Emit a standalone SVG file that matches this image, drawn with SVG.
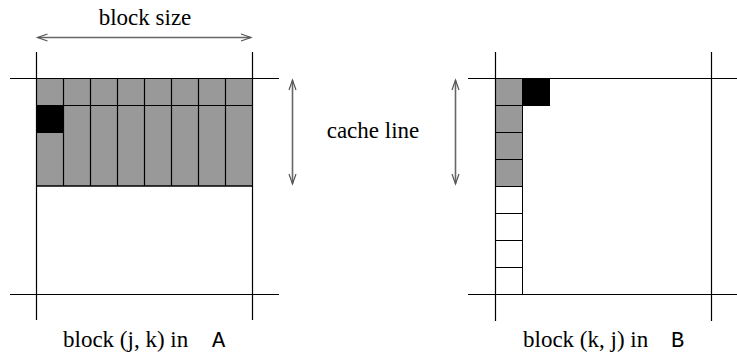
<svg xmlns="http://www.w3.org/2000/svg" width="737" height="353" viewBox="0 0 737 353">
<style>
.ln{stroke:#000;stroke-width:1.2;fill:none}
.cell{fill:#999;stroke:#000;stroke-width:1}
.blk{fill:#000;stroke:#000;stroke-width:1}
.wc{fill:#fff;stroke:#000;stroke-width:1}
.arr{stroke:#666;stroke-width:1.6;fill:none}
.hd{stroke:#555;stroke-width:1.2;fill:none}
.t{font-family:"Liberation Serif","Times New Roman",serif;font-size:23px;fill:#000}
.m{font-family:"Liberation Mono","Courier New",monospace;font-size:22px;fill:#000}
</style>
<g id="blockA">
<rect class="cell" x="36.5" y="78.5" width="216" height="107.5"/>
<path class="ln" d="M36.5,105.5H252.5M63.5,78.5V186M90.5,78.5V186M117.5,78.5V186M144.5,78.5V186M171.5,78.5V186M198.5,78.5V186M225.5,78.5V186"/>
<rect class="blk" x="36.5" y="105.5" width="27" height="27"/>
<path class="ln" d="M10,78.5H279M10,294.5H279M36.5,52V320M252.5,52V320M36.5,186H252.5"/>
</g>
<g id="blockB">
<rect class="cell" x="495.5" y="78.5" width="27" height="27"/>
<rect class="cell" x="495.5" y="105.5" width="27" height="27"/>
<rect class="cell" x="495.5" y="132.5" width="27" height="27"/>
<rect class="cell" x="495.5" y="159.5" width="27" height="27"/>
<rect class="wc" x="495.5" y="186.5" width="27" height="27"/>
<rect class="wc" x="495.5" y="213.5" width="27" height="27"/>
<rect class="wc" x="495.5" y="240.5" width="27" height="27"/>
<rect class="wc" x="495.5" y="267.5" width="27" height="27"/>
<rect class="blk" x="522.5" y="78.5" width="27" height="27"/>
<path class="ln" d="M468,78.5H737M468,294.5H737M495.5,52V321M711.5,52V321"/>
</g>
<g id="connectors">
<line class="arr" x1="38" y1="37.5" x2="250.5" y2="37.5"/>
<path class="hd" d="M47.5,34L37.5,37.5L47.5,41M241,34L251,37.5L241,41"/>
<line class="arr" x1="292.5" y1="80.5" x2="292.5" y2="183.5"/>
<path class="hd" d="M289,90L292.5,80L296,90M289,174L292.5,184L296,174"/>
<line class="arr" x1="455.5" y1="80.5" x2="455.5" y2="183.5"/>
<path class="hd" d="M452,90L455.5,80L459,90M452,174L455.5,184L459,174"/>
</g>
<g id="labels">
<text class="t" x="145" y="25" text-anchor="middle">block size</text>
<text class="t" x="373" y="138" text-anchor="middle">cache line</text>
<text class="t" x="63" y="347">block (j, k) in</text>
<text class="t" x="523" y="347">block (k, j) in</text>
<text class="m" x="212" y="347">A</text>
<text class="m" x="671" y="347">B</text>
</g>
</svg>
